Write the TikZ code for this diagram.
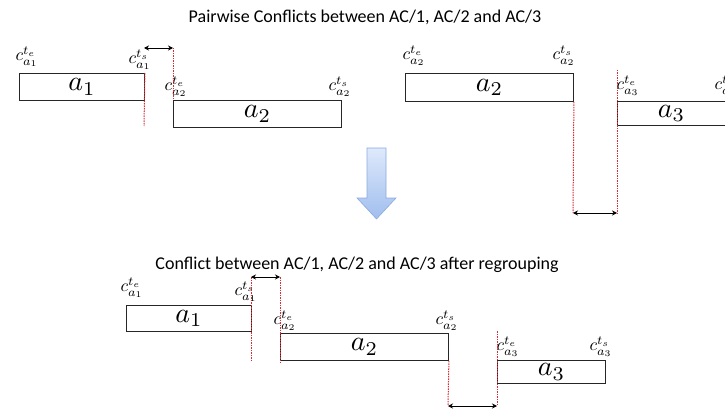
\documentclass[tikz,border=0pt]{standalone}
\usepackage{graphicx}
\usepackage{fontspec}
\setmainfont{Carlito}
\usetikzlibrary{arrows.meta}
\definecolor{dotred}{RGB}{215,45,55}
\definecolor{arrfillA}{RGB}{222,233,251}
\definecolor{arrfillB}{RGB}{160,190,238}
\definecolor{arrdraw}{RGB}{140,170,225}
\newcommand{\actlab}[1]{\scalebox{2.8}{$#1$}}
\newcommand{\tlab}[1]{\scalebox{1.75}{$#1$}}
\tikzset{
  actbox/.style={draw=black!85, line width=0.9pt, inner sep=0pt, anchor=north west},
  clabel/.style={inner sep=0pt},
  redline/.style={draw=dotred, dash pattern=on 1.5pt off 1pt, line width=1pt},
  gap/.style={{Stealth[length=5pt,width=5pt]}-{Stealth[length=5pt,width=5pt]}, line width=0.8pt},
  titletext/.style={font=\fontsize{18}{20}\selectfont, inner sep=0pt}
}
\begin{document}
\begin{tikzpicture}[x=1pt,y=-1pt]
\clip (0,0) rectangle (725,409);
\fill[white] (0,0) rectangle (725,409);

% titles
\node[titletext] (t1) at (365,17) {Pairwise Conflicts between AC/1, AC/2 and AC/3};
\node[titletext] (t2) at (357,265) {Conflict between AC/1, AC/2 and AC/3 after regrouping};

% ---------- top left ----------
\node[actbox, minimum width=125pt, minimum height=27pt] (TLa1) at (19,73) {\actlab{a_1}};
\node[actbox, minimum width=168pt, minimum height=27pt] (TLa2) at (173,100) {\actlab{a_2}};
\node[clabel] (TLc1) at (27,57) {\tlab{c^{t_e}_{a_1}}};
\node[clabel] (TLc2) at (140,60) {\tlab{c^{t_s}_{a_1}}};
\node[clabel] (TLc3) at (176,87) {\tlab{c^{t_e}_{a_2}}};
\node[clabel] (TLc4) at (340,87) {\tlab{c^{t_s}_{a_2}}};
\coordinate (TLg1) at (144,48);
\coordinate (TLg2) at (173,48);
\coordinate (TLd1) at (144,126);
\draw[redline] (TLa1.north east) -- (TLd1);
\draw[redline] (TLg2) -- (TLa2.north west);
\draw[gap] (TLg1) -- (TLg2);

% ---------- top right ----------
\node[actbox, minimum width=168pt, minimum height=28pt] (TRa2) at (405,73) {\actlab{a_2}};
\node[actbox, minimum width=120pt, minimum height=24pt] (TRa3) at (617,101) {\hspace*{-12pt}\actlab{a_3}};
\node[clabel] (TRc1) at (414,56) {\tlab{c^{t_e}_{a_2}}};
\node[clabel] (TRc2) at (564,56) {\tlab{c^{t_s}_{a_2}}};
\node[clabel] (TRc3) at (628,86) {\tlab{c^{t_e}_{a_3}}};
\node[clabel] (TRc4) at (726,86) {\tlab{c^{t_s}_{a_3}}};
\coordinate (TRg1) at (573,213);
\coordinate (TRg2) at (617,213);
\coordinate (TRd2) at (617,70);
\draw[redline] (TRa2.south east) -- (TRg1);
\draw[redline] (TRd2) -- (TRg2);
\draw[gap] (TRg1) -- (TRg2);

% ---------- block arrow ----------
\shade[top color=arrfillA, bottom color=arrfillB, draw=arrdraw, line width=0.6pt]
  (367,148) -- (386,148) -- (386,198) -- (396,198) -- (376.5,219) -- (357,198) -- (367,198) -- cycle;

% ---------- bottom ----------
\node[actbox, minimum width=125pt, minimum height=26pt] (Ba1) at (126,305) {\actlab{a_1}};
\node[actbox, minimum width=168pt, minimum height=27pt] (Ba2) at (280,333) {\actlab{a_2}};
\node[actbox, minimum width=108pt, minimum height=23pt] (Ba3) at (497,360) {\actlab{a_3}};
\node[clabel] (Bc1) at (132,288) {\tlab{c^{t_e}_{a_1}}};
\node[clabel] (Bc2) at (246,292) {\tlab{c^{t_s}_{a_1}}};
\node[clabel] (Bc3) at (285,321) {\tlab{c^{t_e}_{a_2}}};
\node[clabel] (Bc4) at (447,321) {\tlab{c^{t_s}_{a_2}}};
\node[clabel] (Bc5) at (508,347) {\tlab{c^{t_e}_{a_3}}};
\node[clabel] (Bc6) at (601,347) {\tlab{c^{t_s}_{a_3}}};
\coordinate (Bg1) at (251,277);
\coordinate (Bg2) at (280,277);
\coordinate (Bd1) at (251,361);
\coordinate (Bd2) at (280,363);
\draw[redline] (Bg1) -- (Bd1);
\draw[redline] (Bg2) -- (Bd2);
\draw[gap] (Bg1) -- (Bg2);
\coordinate (Bg3) at (448,406);
\coordinate (Bg4) at (497,406);
\coordinate (Bd4) at (497,331);
\draw[redline] (Ba2.south east) -- (Bg3);
\draw[redline] (Bd4) -- (Bg4);
\draw[gap] (Bg3) -- (Bg4);
\end{tikzpicture}
\end{document}
